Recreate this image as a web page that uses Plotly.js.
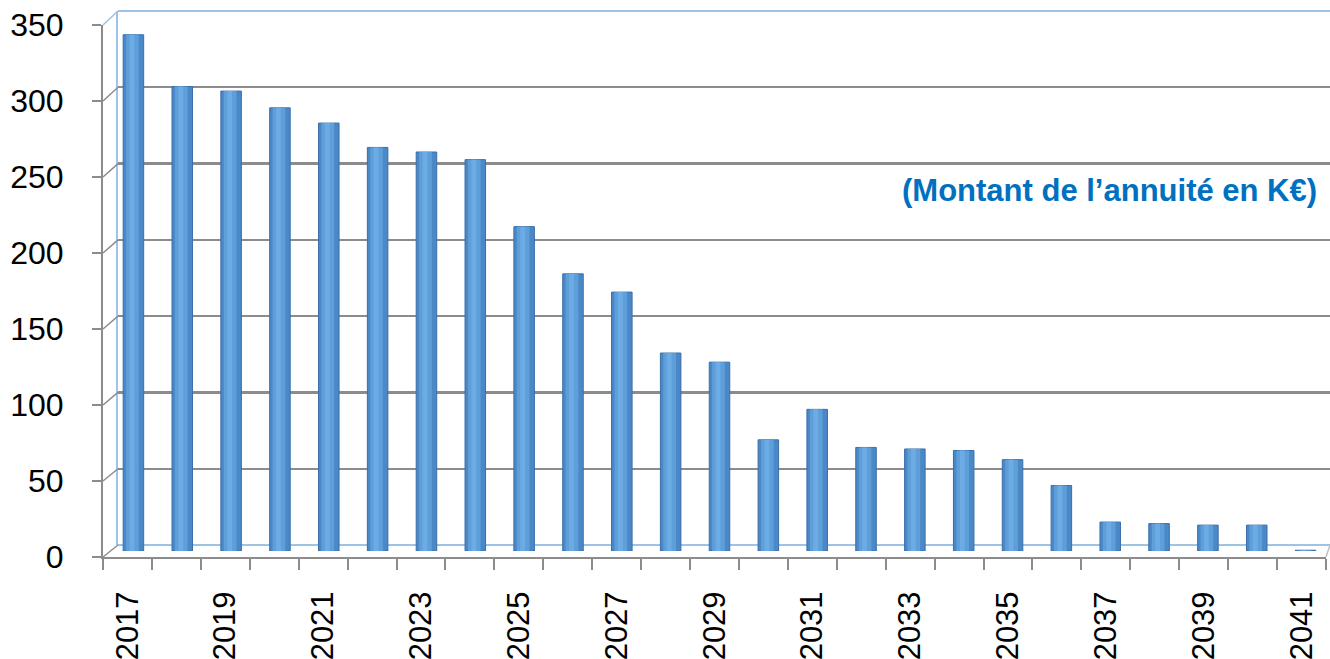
<!DOCTYPE html>
<html>
<head>
<meta charset="utf-8">
<script src="https://cdn.plot.ly/plotly-3.0.1.min.js"></script>
<style>html,body{margin:0;padding:0;background:#fff;}#chart{width:1330px;height:659px;}</style>
</head>
<body>
<div id="chart"></div>
<script>
const years = [2017,2018,2019,2020,2021,2022,2023,2024,2025,2026,2027,2028,2029,2030,2031,2032,2033,2034,2035,2036,2037,2038,2039,2040,2041];
const annuity = [339,305,302,291,281,265,262,257,213,182,170,130,124,73,93,68,67,66,60,43,19,18,17,17,0.5];
const xTickYears = [2017,2019,2021,2023,2025,2027,2029,2031,2033,2035,2037,2039,2041];
const yTicks = [0,50,100,150,200,250,300,350];
const noteText = "(Montant de l’annuité en K€)";

const W = 1330, H = 659;
const px = x => x / W;
const py = y => 1 - y / H;

// front frame (pixel geometry)
const F = {x0: 103, x1: 1326, y0: 557, y1: 25};
// back wall
const B = {x0: 118, x1: 1330, y0: 545, y1: 11};
// bars plane
const M = {x0: 109, x1: 1330, y0: 551, y1: 18};

const yMax = 350;
const xRange = [years[0] - 0.5, years[years.length - 1] + 0.5];

const frontY = v => py(F.y0 + (F.y1 - F.y0) * v / yMax);
const backY = v => py(B.y0 + (B.y1 - B.y0) * v / yMax);

const shapes = [];
yTicks.forEach(v => {
  shapes.push({type: 'line', xref: 'paper', yref: 'paper',
    x0: px(F.x0), y0: frontY(v), x1: px(B.x0), y1: backY(v),
    line: {color: v === yMax ? '#9dc3e6' : '#8c8c8c', width: 1.5}});
});
// top edge of back wall
shapes.push({type: 'line', xref: 'paper', yref: 'paper',
  x0: px(B.x0), y0: backY(yMax), x1: 1, y1: backY(yMax),
  line: {color: '#9dc3e6', width: 2}});
// right floor edge
shapes.push({type: 'line', xref: 'paper', yref: 'paper',
  x0: px(F.x1), y0: frontY(0), x1: 1, y1: backY(0),
  line: {color: '#bfbfbf', width: 1.5}});

const font = 'Liberation Sans, Arial, sans-serif';

const traces = [
  {type: 'scatter', x: [], y: [], xaxis: 'x', yaxis: 'y', showlegend: false, hoverinfo: 'skip'},
  {type: 'scatter', x: [], y: [], xaxis: 'x2', yaxis: 'y2', showlegend: false, hoverinfo: 'skip'},
  {type: 'bar', x: years, y: annuity, xaxis: 'x3', yaxis: 'y3', width: 0.42,
    marker: {color: '#4a88c8', line: {color: '#3a6ea8', width: 1}}, showlegend: false},
  {type: 'bar', x: years, y: annuity, xaxis: 'x3', yaxis: 'y3', width: 0.26, offset: -0.15,
    marker: {color: '#5e9ed9', line: {width: 0}}, showlegend: false, hoverinfo: 'skip'},
  {type: 'bar', x: years, y: annuity, xaxis: 'x3', yaxis: 'y3', width: 0.1, offset: -0.08,
    marker: {color: '#6cabe4', line: {width: 0}}, showlegend: false, hoverinfo: 'skip'}
];

const layout = {
  width: W, height: H,
  margin: {l: 0, r: 0, t: 0, b: 0},
  paper_bgcolor: '#ffffff', plot_bgcolor: 'rgba(0,0,0,0)',
  barmode: 'overlay',
  showlegend: false,
  xaxis: {
    anchor: 'y', domain: [px(F.x0), px(F.x1)], range: xRange, type: 'linear',
    tickmode: 'array', tickvals: xTickYears, ticktext: xTickYears.map(String),
    ticks: 'outside', ticklen: 20, tickcolor: 'rgba(0,0,0,0)', tickangle: -90,
    tickfont: {family: font, size: 31, color: '#000'},
    showline: true, linecolor: '#8c8c8c', linewidth: 2,
    showgrid: false, zeroline: false,
    minor: {tick0: xRange[0], dtick: 1, ticks: 'outside', ticklen: 11, tickcolor: '#8c8c8c', tickwidth: 2, showgrid: false}
  },
  yaxis: {
    anchor: 'x', domain: [py(F.y0), py(F.y1)], range: [0, yMax],
    tickmode: 'array', tickvals: yTicks, ticks: 'outside', ticklen: 9,
    tickcolor: '#8c8c8c', tickwidth: 2, ticklabelstandoff: 22,
    tickfont: {family: font, size: 32, color: '#000'},
    showline: true, linecolor: '#8c8c8c', linewidth: 2,
    showgrid: false, zeroline: false
  },
  xaxis2: {
    anchor: 'y2', domain: [px(B.x0), 1], range: xRange,
    showgrid: false, zeroline: false, showticklabels: false, ticks: '', showline: false
  },
  yaxis2: {
    anchor: 'x2', domain: [py(B.y0), py(B.y1)], range: [0, yMax],
    tickmode: 'array', tickvals: yTicks, showticklabels: false, ticks: '',
    showgrid: true, gridcolor: '#8c8c8c', gridwidth: 2.2,
    zeroline: true, zerolinecolor: '#9dc3e6', zerolinewidth: 2,
    showline: true, linecolor: '#9dc3e6', linewidth: 2
  },
  xaxis3: {
    anchor: 'y3', domain: [px(M.x0), 1], range: xRange,
    visible: false
  },
  yaxis3: {
    anchor: 'x3', domain: [py(M.y0), py(M.y1)], range: [0, yMax],
    visible: false
  },
  shapes: shapes,
  annotations: [{
    xref: 'paper', yref: 'paper', x: px(1319), y: py(190),
    xanchor: 'right', yanchor: 'middle', showarrow: false,
    text: '<b>' + noteText + '</b>',
    font: {family: font, size: 31, color: '#0070c0'}
  }]
};

Plotly.newPlot('chart', traces, layout, {displayModeBar: false, staticPlot: true});
</script>
</body>
</html>
